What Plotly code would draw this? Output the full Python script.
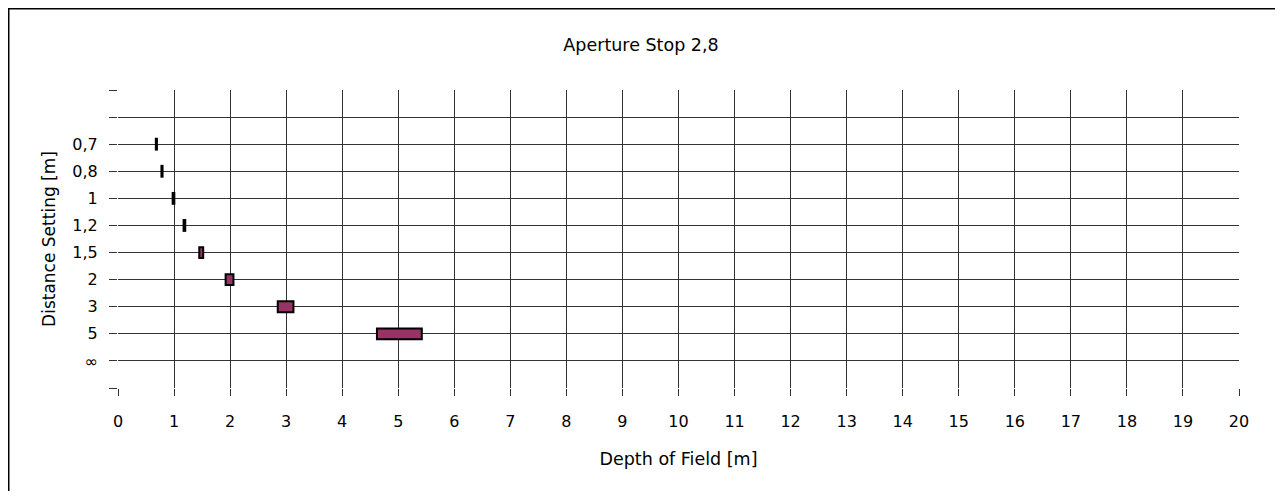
import plotly.graph_objects as go

# Data
distance_labels = ["∞", "5", "3", "2", "1,5", "1,2", "1", "0,8", "0,7"]
near_limits = [None, 4.62, 2.85, 1.92, 1.45, 1.17, 0.975, 0.775, 0.675]
far_limits = [None, 5.42, 3.13, 2.06, 1.52, 1.20, 1.005, 0.795, 0.695]
x_ticks = list(range(0, 21))

# page body has an 8px margin, so figure coords = screen coords - 8
W, H = 1272, 483
ML, MR, MT, MB = 110, 41, 82, 103

ypos = list(range(1, len(distance_labels) + 1))
bar_len = [None if a is None else b - a for a, b in zip(near_limits, far_limits)]

fig = go.Figure()
fig.add_trace(go.Bar(
    y=ypos, x=bar_len, base=near_limits, orientation="h",
    width=0.4,
    marker=dict(color="#993366", line=dict(color="black", width=2)),
    showlegend=False, hoverinfo="skip",
))

font = "DejaVu Sans, Verdana, sans-serif"
fig.update_layout(
    width=W, height=H,
    margin=dict(l=ML, r=MR, t=MT, b=MB),
    paper_bgcolor="white", plot_bgcolor="white",
    font=dict(family=font, size=16, color="black"),
    title=dict(text="Aperture Stop 2,8", x=633 / W, xref="container", xanchor="center",
               y=1 - 37 / H, yref="container", yanchor="middle",
               font=dict(size=17.5, family=font)),
)
fig.update_xaxes(
    range=[0, 20], tickvals=x_ticks, ticktext=[str(v) for v in x_ticks],
    showgrid=True, gridcolor="#333", gridwidth=1,
    ticks="outside", ticklen=7, tickcolor="#333",
    ticklabelstandoff=12,
    showline=False, zeroline=False,
    title=dict(text="Depth of Field [m]", standoff=22, font=dict(size=17.5, family=font)),
    tickfont=dict(size=16),
)
fig.update_yaxes(
    range=[0, 11], tickvals=list(range(0, 12)),
    ticktext=[""] + distance_labels + ["", ""],
    showgrid=True, gridcolor="#333", gridwidth=1,
    ticks="outside", ticklen=8, tickcolor="#333",
    ticklabelstandoff=8,
    showline=False, zeroline=False,
    title=dict(text="Distance Setting [m]", standoff=12, font=dict(size=17, family=font)),
    tickfont=dict(size=16),
)
pw = W - ML - MR
ph = H - MT - MB
fig.add_shape(type="rect", xref="paper", yref="paper",
              x0=(0.75 - ML) / pw, x1=(1269 - ML) / pw,
              y0=(H - 520 - MB) / ph, y1=(H - 0.75 - MB) / ph,
              line=dict(color="black", width=1.5), fillcolor="rgba(0,0,0,0)", layer="below")
fig.write_html("out.html")
